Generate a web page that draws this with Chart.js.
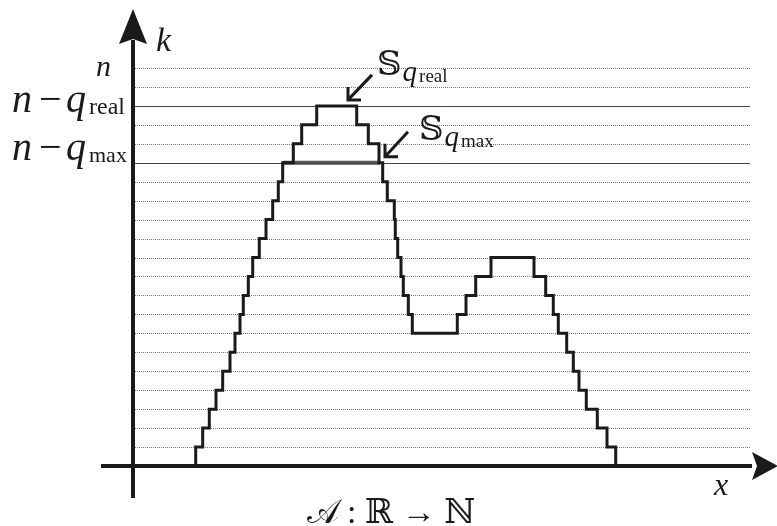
<!DOCTYPE html>
<html>
<head>
<meta charset="utf-8">
<script src="https://cdn.jsdelivr.net/npm/chart.js"></script>
<style>
  html, body { margin: 0; padding: 0; background: #fff; }
  #wrap { width: 777px; height: 526px; }
</style>
</head>
<body>
<div id="wrap"><canvas id="grafico" width="777" height="526"></canvas></div>
<script>
// niveis do eixo k
const nLevel = 21;
const qRealLevel = 19;
const qMaxLevel = 16;
const gridLevels = Array.from({ length: nLevel + 1 }, (_, i) => i);

// escada: x onde o nivel muda, e o novo nivel
const stepX = [62.7, 62.7, 69.7, 76.3, 83, 89.7, 97, 102, 107, 110.3, 115.3, 119.7, 126.3, 133, 139.7, 145.3, 149.7,
  160.3, 168.7, 183.7, 223.7, 235.3, 246, 249.7, 254.3, 261.3, 262.3, 264.7, 268, 270.3, 275.3, 279.3,
  324.3, 333, 342.7, 358, 401, 412.7, 420.3, 425.3, 433.7, 440.3, 446, 453.3, 464.3, 474, 482.7];
const stepLevel = [0, 1, 2, 3, 4, 5, 6, 7, 8, 9, 10, 11, 12, 13, 14, 15, 16,
  17, 18, 19, 18, 17, 16, 15, 14, 13, 12, 11, 10, 9, 8, 7,
  8, 9, 10, 11, 10, 9, 8, 7, 6, 5, 4, 3, 2, 1, 0];

// conjunto S_qmax (trecho no nivel n - q_max)
const sMaxX = [150, 247];
const xMax = 617;

const serif = "'Liberation Serif', 'DejaVu Serif', serif";

function seta(ctx, x1, y1, x2, y2) {
  ctx.beginPath();
  ctx.moveTo(x1, y1);
  ctx.lineTo(x2, y2);
  ctx.moveTo(x2, y2 - 13);
  ctx.lineTo(x2, y2);
  ctx.lineTo(x2 + 13, y2);
  ctx.stroke();
}

const desenhoExtra = {
  id: 'desenhoExtra',
  beforeDatasetsDraw(chart) {
    const ctx = chart.ctx;
    const xs = chart.scales.x, ys = chart.scales.y;
    ctx.save();
    gridLevels.forEach(k => {
      const y = Math.round(ys.getPixelForValue(k)) + 0.5;
      ctx.beginPath();
      if (k === qRealLevel || k === qMaxLevel) {
        ctx.setLineDash([]);
        ctx.strokeStyle = '#444';
      } else {
        ctx.setLineDash([1, 1]);
        ctx.strokeStyle = '#7a7a7a';
      }
      ctx.lineWidth = 1;
      ctx.moveTo(xs.getPixelForValue(2), y);
      ctx.lineTo(xs.getPixelForValue(xMax), y);
      ctx.stroke();
    });
    ctx.restore();
  },
  afterDatasetsDraw(chart) {
    const ctx = chart.ctx;
    const xs = chart.scales.x, ys = chart.scales.y;
    const x0 = xs.getPixelForValue(0);
    const y0 = ys.getPixelForValue(0);
    ctx.save();
    ctx.strokeStyle = '#1a1a1a';
    ctx.fillStyle = '#1a1a1a';
    // eixos
    ctx.lineWidth = 4;
    ctx.beginPath();
    ctx.moveTo(x0, y0 + 32);
    ctx.lineTo(x0, 40);
    ctx.moveTo(x0 - 32, y0);
    ctx.lineTo(752, y0);
    ctx.stroke();
    ctx.beginPath();
    ctx.moveTo(x0, 9);
    ctx.lineTo(x0 + 14, 44);
    ctx.lineTo(x0, 39);
    ctx.lineTo(x0 - 14, 44);
    ctx.closePath();
    ctx.fill();
    ctx.beginPath();
    ctx.moveTo(778, y0);
    ctx.lineTo(752, y0 + 14);
    ctx.lineTo(757, y0);
    ctx.lineTo(752, y0 - 14);
    ctx.closePath();
    ctx.fill();

    // rotulos
    ctx.textBaseline = 'alphabetic';
    ctx.textAlign = 'left';
    ctx.font = 'italic 34px ' + serif;
    ctx.fillText('k', 156, 51);
    ctx.font = 'italic 32px ' + serif;
    ctx.fillText('x', 714, 495);
    ctx.font = 'italic 30px ' + serif;
    ctx.fillText('n', 96, ys.getPixelForValue(nLevel) + 8);

    const rotulo = (yb, sub, tam) => {
      ctx.font = 'italic 40px ' + serif;
      ctx.fillText('n', 12, yb);
      ctx.font = '40px ' + serif;
      ctx.fillText('\u2212', 39, yb);
      ctx.font = 'italic 40px ' + serif;
      ctx.fillText('q', 66, yb);
      ctx.font = tam + 'px ' + serif;
      ctx.fillText(sub, 89, yb + 2);
    };
    rotulo(ys.getPixelForValue(qRealLevel) + 6, 'real', 24);
    rotulo(ys.getPixelForValue(qMaxLevel) - 3, 'max', 22);

    const conjunto = (x, yb, sub) => {
      ctx.font = '34px ' + serif;
      ctx.fillText('\u{1D54A}', x, yb);
      const w = ctx.measureText('\u{1D54A}').width;
      ctx.font = 'italic 29px ' + serif;
      ctx.fillText('q', x + w + 1, yb + 6);
      const wq = ctx.measureText('q').width;
      ctx.font = '19px ' + serif;
      ctx.fillText(sub, x + w + wq + 3, yb + 7);
    };
    conjunto(377, ys.getPixelForValue(qRealLevel) - 31, 'real');
    conjunto(419, ys.getPixelForValue(qMaxLevel) - 23, 'max');

    ctx.lineWidth = 3;
    const tr = ys.getPixelForValue(qRealLevel) - 6;
    seta(ctx, 372, tr - 25, 348, tr);
    const tm = ys.getPixelForValue(qMaxLevel) - 6;
    seta(ctx, 408, tm - 25, 385, tm);

    ctx.font = '34px ' + serif;
    ctx.textAlign = 'center';
    ctx.fillText('\u{1D49C} : \u211D \u2192 \u2115', 391, 523);
    ctx.restore();
  }
};

function desenharGrafico() {
  const ctx = document.getElementById('grafico').getContext('2d');
  new Chart(ctx, {
    type: 'line',
    data: {
      datasets: [{
        data: stepX.map((x, i) => ({ x: x, y: stepLevel[i] })),
        stepped: true,
        borderColor: '#1a1a1a',
        borderWidth: 3,
        pointRadius: 0,
        fill: false,
        clip: false
      }, {
        data: sMaxX.map(x => ({ x: x, y: qMaxLevel })),
        borderColor: 'rgba(70, 70, 70, 0.9)',
        borderWidth: 4,
        pointRadius: 0,
        clip: false
      }]
    },
    options: {
      responsive: false,
      animation: false,
      layout: { padding: { left: 133, right: 27, top: 68, bottom: 60 } },
      scales: {
        x: { type: 'linear', min: 0, max: xMax, display: false },
        y: { type: 'linear', min: 0, max: nLevel, display: false }
      },
      plugins: {
        legend: { display: false },
        tooltip: { enabled: false }
      }
    },
    plugins: [desenhoExtra]
  });
}

document.addEventListener('DOMContentLoaded', desenharGrafico);
</script>
</body>
</html>
